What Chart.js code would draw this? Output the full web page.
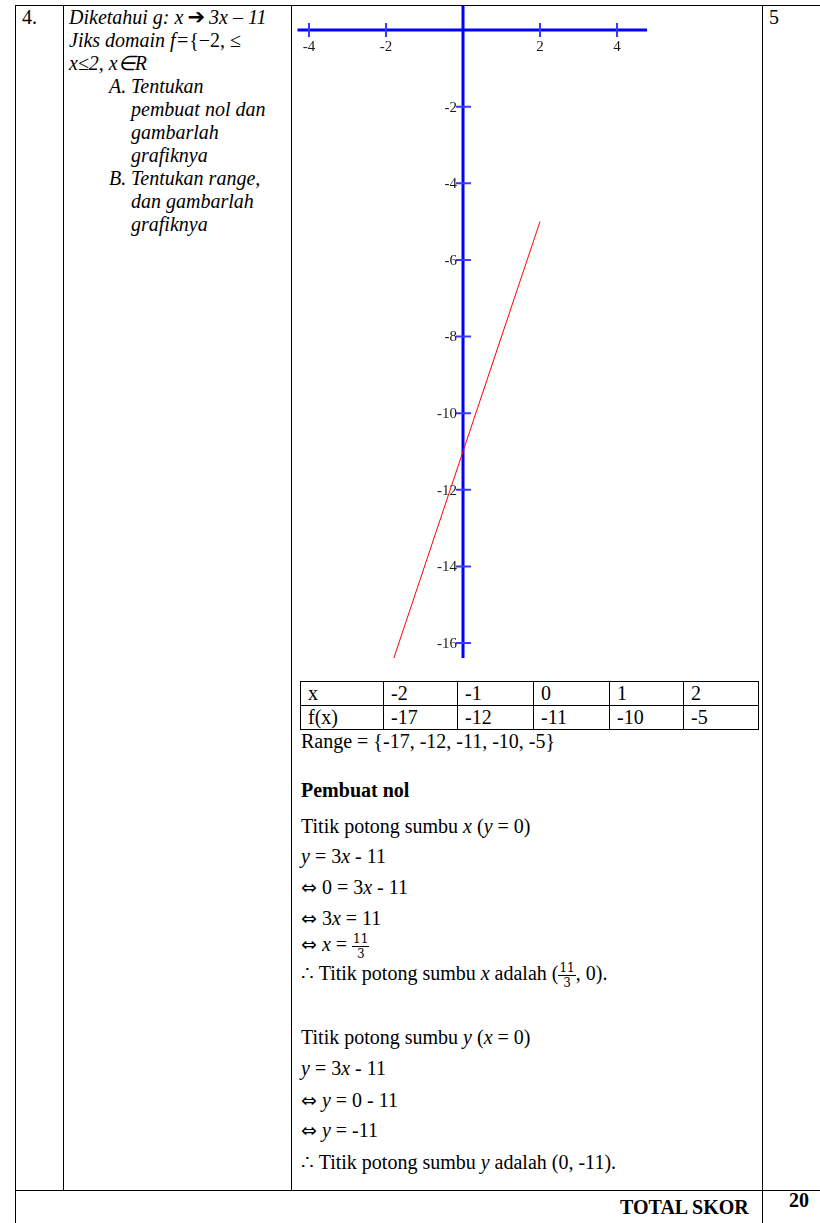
<!DOCTYPE html>
<html>
<head>
<meta charset="utf-8">
<script src="https://cdn.jsdelivr.net/npm/chart.js@4/dist/chart.umd.min.js"></script>
<style>
  html, body { margin: 0; padding: 0; background: #fff; }
  #page { position: relative; width: 820px; height: 1223px; overflow: hidden; font-family: "Liberation Serif", serif; font-size: 20px; color: #000; }
  .ln { position: absolute; white-space: nowrap; line-height: 24px; }
  .it { font-style: italic; }
  .b { font-weight: bold; }
  .hl { position: absolute; height: 1px; background: #000; }
  .vl { position: absolute; width: 1px; background: #000; }
  .sym { font-family: "DejaVu Sans", sans-serif; font-size: 19px; font-style: normal; }
  #chartBox { position: absolute; left: 292px; top: 6px; width: 468px; height: 652px; }
  #valTable { position: absolute; left: 300px; top: 681px; border-collapse: collapse; font-size: 20px; }
  #valTable td { border: 1px solid #000; height: 23px; padding: 0 0 0 7px; line-height: 23px; vertical-align: middle; }
  .frac { display: inline-block; vertical-align: middle; text-align: center; font-family: "DejaVu Serif", serif; font-size: 12px; line-height: 14px; }
  .frac .num { display: block; border-bottom: 1.5px solid #000; padding: 0 1px; }
  .frac .den { display: block; }
</style>
</head>
<body>
<div id="page">
  <!-- table borders -->
  <div class="hl" style="left:15px; top:5px; width:820px;"></div>
  <div class="hl" style="left:15px; top:1190px; width:820px;"></div>
  <div class="vl" style="left:15px; top:5px; height:1230px;"></div>
  <div class="vl" style="left:63px; top:5px; height:1185px;"></div>
  <div class="vl" style="left:291px; top:5px; height:1185px;"></div>
  <div class="vl" style="left:762px; top:5px; height:1230px;"></div>

  <!-- left columns -->
  <div class="ln" style="left:22px; top:5px;">4.</div>
  <div class="ln it" style="left:69px; top:5px;">Diketahui g: <i>x</i>&#8201;<span class="sym" style="font-weight:bold; font-size:21px">&#10132;</span>&#8201;3x – 11</div>
  <div class="ln it" style="left:69px; top:28px;">Jiks domain f=<span style="font-style:normal">{−2, ≤</span></div>
  <div class="ln it" style="left:69px; top:51px;">x≤2, x∈R</div>
  <div class="ln it" style="left:109px; top:74px;">A.</div>
  <div class="ln it" style="left:131px; top:74px;">Tentukan</div>
  <div class="ln it" style="left:131px; top:97px;">pembuat nol dan</div>
  <div class="ln it" style="left:131px; top:120px;">gambarlah</div>
  <div class="ln it" style="left:131px; top:143px;">grafiknya</div>
  <div class="ln it" style="left:109px; top:166px;">B.</div>
  <div class="ln it" style="left:131px; top:166px;">Tentukan range,</div>
  <div class="ln it" style="left:131px; top:189px;">dan gambarlah</div>
  <div class="ln it" style="left:131px; top:212px;">grafiknya</div>

  <div class="ln" style="left:769px; top:5px;">5</div>

  <!-- chart -->
  <div id="chartBox"><canvas id="graph"></canvas></div>

  <!-- values table -->
  <table id="valTable"><tbody id="valBody"></tbody></table>

  <div class="ln" id="rangeLine" style="left:301px; top:729px;"></div>
  <div class="ln b" style="left:301px; top:778px;">Pembuat nol</div>
  <div class="ln" style="left:301px; top:814px;">Titik potong sumbu <i>x</i> (<i>y</i> = 0)</div>
  <div class="ln" style="left:301px; top:844px;"><i>y</i> = 3<i>x</i> - 11</div>
  <div class="ln" style="left:301px; top:875px;"><span class="sym">&#8660;</span> 0 = 3<i>x</i> - 11</div>
  <div class="ln" style="left:301px; top:906px;"><span class="sym">&#8660;</span> 3<i>x</i> = 11</div>
  <div class="ln" style="left:301px; top:932px;"><span class="sym">&#8660;</span> <i>x</i> = <span class="frac"><span class="num">11</span><span class="den">3</span></span></div>
  <div class="ln" style="left:301px; top:961px;">&#8756; Titik potong sumbu <i>x</i> adalah (<span class="frac"><span class="num">11</span><span class="den">3</span></span>, 0).</div>
  <div class="ln" style="left:301px; top:1025px;">Titik potong sumbu <i>y</i> (<i>x</i> = 0)</div>
  <div class="ln" style="left:301px; top:1056px;"><i>y</i> = 3<i>x</i> - 11</div>
  <div class="ln" style="left:301px; top:1088px;"><span class="sym">&#8660;</span> <i>y</i> = 0 - 11</div>
  <div class="ln" style="left:301px; top:1118px;"><span class="sym">&#8660;</span> <i>y</i> = -11</div>
  <div class="ln" style="left:301px; top:1150px;">&#8756; Titik potong sumbu <i>y</i> adalah (0, -11).</div>

  <div class="ln b" style="left:620px; top:1195px;">TOTAL SKOR</div>
  <div class="ln b" style="left:789px; top:1188px;">20</div>
</div>

<script>
// Data
const lineX = [-2, 2];
const lineY = [-17, -5];
const xTickValues = [-4, -2, 2, 4];
const yTickValues = [-2, -4, -6, -8, -10, -12, -14, -16];
const xAxisSpan = [-4.3, 4.78];
const yAxisSpan = [0.65, -16.4];
const tableX = [-2, -1, 0, 1, 2];
const tableFx = [-17, -12, -11, -10, -5];

// Value table
const valBody = document.getElementById('valBody');
const colWidths = [75, 66, 68, 68, 66, 67];
[['x', tableX], ['f(x)', tableFx]].forEach(([head, vals]) => {
    const tr = document.createElement('tr');
    [head, ...vals].forEach((v, i) => {
        const td = document.createElement('td');
        td.textContent = String(v);
        td.style.width = colWidths[i] + 'px';
        tr.appendChild(td);
    });
    valBody.appendChild(tr);
});
document.getElementById('rangeLine').textContent = 'Range = {' + tableFx.join(', ') + '}';

// Crossing axes drawn through the chart scales
const crossAxes = {
    id: 'crossAxes',
    beforeDatasetsDraw(chart) {
        const { ctx, scales: { x, y } } = chart;
        const x0 = x.getPixelForValue(0);
        const y0 = y.getPixelForValue(0);
        ctx.save();
        ctx.strokeStyle = '#0000ff';
        ctx.lineWidth = 3;
        ctx.beginPath();
        ctx.moveTo(x.getPixelForValue(xAxisSpan[0]), y0);
        ctx.lineTo(x.getPixelForValue(xAxisSpan[1]), y0);
        ctx.moveTo(x0, y.getPixelForValue(yAxisSpan[0]));
        ctx.lineTo(x0, y.getPixelForValue(yAxisSpan[1]));
        ctx.stroke();

        ctx.strokeStyle = '#3a3aff';
        ctx.lineWidth = 2;
        ctx.beginPath();
        xTickValues.forEach(v => {
            const px = x.getPixelForValue(v);
            ctx.moveTo(px, y0 - 7);
            ctx.lineTo(px, y0 + 7);
        });
        yTickValues.forEach(v => {
            const py = y.getPixelForValue(v);
            ctx.moveTo(x0 - 7, py);
            ctx.lineTo(x0 + 8, py);
        });
        ctx.stroke();

        ctx.fillStyle = '#1a1a1a';
        ctx.font = '15px "Liberation Serif", serif';
        ctx.textAlign = 'center';
        ctx.textBaseline = 'middle';
        xTickValues.forEach(v => {
            ctx.fillText(String(v), x.getPixelForValue(v), y0 + 17);
        });
        ctx.textAlign = 'right';
        yTickValues.forEach(v => {
            ctx.fillText(String(v), x0 - 6, y.getPixelForValue(v) + 1);
        });
        ctx.restore();
    }
};

const graph = document.getElementById('graph').getContext('2d');
new Chart(graph, {
    type: 'scatter',
    data: {
        datasets: [{
            data: lineX.map((v, i) => ({ x: v, y: lineY[i] })),
            showLine: true,
            borderColor: '#ff0000',
            borderWidth: 1,
            pointRadius: 0,
            fill: false
        }]
    },
    options: {
        responsive: true,
        maintainAspectRatio: false,
        animation: false,
        layout: { padding: 0 },
        plugins: {
            legend: { display: false },
            tooltip: { enabled: false }
        },
        scales: {
            x: { type: 'linear', min: -4.442, max: 7.714, display: false },
            y: { type: 'linear', min: -16.39, max: 0.627, display: false }
        }
    },
    plugins: [crossAxes]
});
</script>
</body>
</html>
